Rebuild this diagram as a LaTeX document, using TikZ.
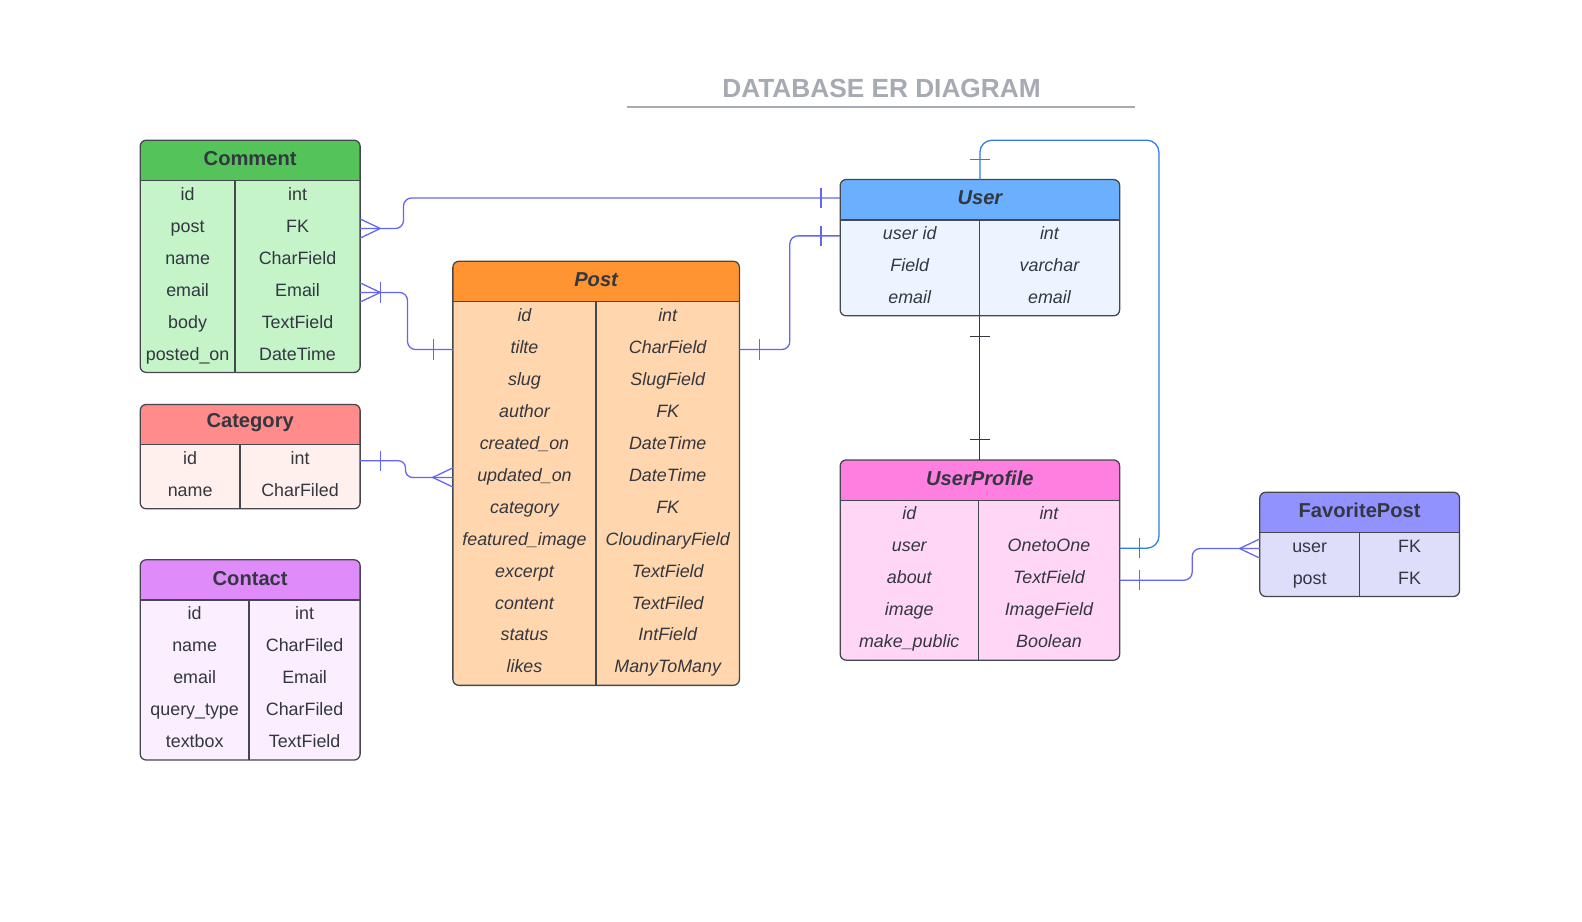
\documentclass[tikz,border=0pt]{standalone}
\usepackage{fontspec}
\setmainfont{Liberation Sans}
\usepackage{tikz}
\usetikzlibrary{positioning}

\definecolor{ink}{HTML}{333740}
\definecolor{frame}{HTML}{44474D}
\definecolor{titlegray}{HTML}{A5AAB3}
\definecolor{relblue}{HTML}{6565F5}
\definecolor{ownerblue}{HTML}{2E7DE6}
\definecolor{cmhead}{HTML}{53C35A}
\definecolor{cmbody}{HTML}{C4F4C8}
\definecolor{cthead}{HTML}{FF8B8B}
\definecolor{ctbody}{HTML}{FFF0EE}
\definecolor{cohead}{HTML}{DF8CFA}
\definecolor{cobody}{HTML}{FAEEFF}
\definecolor{pshead}{HTML}{FF9430}
\definecolor{psbody}{HTML}{FFD6AD}
\definecolor{ushead}{HTML}{6AB0FF}
\definecolor{usbody}{HTML}{ECF5FF}
\definecolor{uphead}{HTML}{FF7FE0}
\definecolor{upbody}{HTML}{FFD6F5}
\definecolor{fphead}{HTML}{9292FF}
\definecolor{fpbody}{HTML}{DEDEFB}

\begin{document}
\begin{tikzpicture}[x=0.025cm, y=-0.025cm,
    tbl/.style={draw=frame, line width=0.9pt, rounded corners=0.15cm, anchor=north west, inner sep=0pt, outer sep=0pt},
    hdr/.style={path picture={
        \fill[#1, sharp corners] (path picture bounding box.north west) rectangle ([yshift=-1cm]path picture bounding box.north east);
        \draw[frame, line width=0.9pt, sharp corners] ([yshift=-1cm]path picture bounding box.north west) -- ([yshift=-1cm]path picture bounding box.north east);}},
    htext/.style={font=\fontsize{14.2}{17}\selectfont\bfseries, text=ink, minimum height=1cm, inner sep=0pt, yshift=0.05cm},
    ihtext/.style={htext, font=\fontsize{14.2}{17}\selectfont\bfseries\itshape},
    fld/.style={font=\fontsize{12.6}{15}\selectfont, text=ink, inner sep=0pt, text height=0.33cm, text depth=0.1475cm},
    ifld/.style={fld, font=\fontsize{12.6}{15}\selectfont\itshape},
    rule/.style={draw=frame, line width=0.9pt},
    relline/.style={draw=relblue, line width=0.9pt, rounded corners=0.2cm},
    ownerline/.style={draw=ownerblue, line width=0.9pt, rounded corners=0.3cm},
    oneline/.style={draw=ink, line width=0.7pt}
]
    \fill[white] (0,0) rectangle (1568.5,914.1);
    \useasboundingbox (0,0) rectangle (1568.5,914.1);

    % title
    \node[font=\fontsize{18.5}{22}\selectfont\bfseries, text=titlegray] (title) at (874,88) {DATABASE ER DIAGRAM};
    \draw[titlegray, line width=1.1pt] (622,106) -- (1125,106);

    % Comment
    \node[tbl, fill=cmbody, hdr=cmhead, minimum width=5.45cm, minimum height=5.755cm] (comment) at (139,139) {};
    \node[htext, below=0cm of comment.north] (commenttitle) {Comment};
    \draw[rule] (233,179) -- (233,369.2);
    \foreach \f/\t [count=\i from 0] in {id/int, post/FK, name/CharField, email/Email, body/TextField, posted\_on/DateTime} {
        \node[fld] (cmf\i) at (186, 194.85+31.7*\i) {\f};
        \node[fld] (cmt\i) at (295, 194.85+31.7*\i) {\t};
    }

    % Category
    \node[tbl, fill=ctbody, hdr=cthead, minimum width=5.45cm, minimum height=2.585cm] (category) at (139,401) {};
    \node[htext, below=0cm of category.north] (categorytitle) {Category};
    \draw[rule] (238,441) -- (238,504.4);
    \foreach \f/\t [count=\i from 0] in {id/int, name/CharFiled} {
        \node[fld] (ctf\i) at (188.5, 456.85+31.7*\i) {\f};
        \node[fld] (ctt\i) at (297.5, 456.85+31.7*\i) {\t};
    }

    % Contact
    \node[tbl, fill=cobody, hdr=cohead, minimum width=5.45cm, minimum height=4.9625cm] (contact) at (139,555) {};
    \node[htext, below=0cm of contact.north] (contacttitle) {Contact};
    \draw[rule] (247,595) -- (247,753.5);
    \foreach \f/\t [count=\i from 0] in {id/int, name/CharFiled, email/Email, query\_type/CharFiled, textbox/TextField} {
        \node[fld] (cof\i) at (193, 610.85+31.7*\i) {\f};
        \node[fld] (cot\i) at (302, 610.85+31.7*\i) {\t};
    }

    % Post
    \node[tbl, fill=psbody, hdr=pshead, minimum width=7.1cm, minimum height=10.51cm] (post) at (449,259) {};
    \node[ihtext, below=0cm of post.north] (posttitle) {Post};
    \draw[rule] (591,299) -- (591,679.4);
    \foreach \f/\t [count=\i from 0] in {id/int, tilte/CharField, slug/SlugField, author/FK, created\_on/DateTime,
        updated\_on/DateTime, category/FK, featured\_image/CloudinaryField, excerpt/TextField, content/TextFiled,
        status/IntField, likes/ManyToMany} {
        \node[ifld] (psf\i) at (520, 314.85+31.7*\i) {\f};
        \node[ifld] (pst\i) at (662, 314.85+31.7*\i) {\t};
    }

    % User
    \node[tbl, fill=usbody, hdr=ushead, minimum width=6.925cm, minimum height=3.3775cm] (user) at (833,178) {};
    \node[ihtext, below=0cm of user.north] (usertitle) {User};
    \draw[rule] (971,218) -- (971,313.1);
    \foreach \f/\t [count=\i from 0] in {user id/int, Field/varchar, email/email} {
        \node[ifld] (usf\i) at (902, 233.85+31.7*\i) {\f};
        \node[ifld] (ust\i) at (1040.5, 233.85+31.7*\i) {\t};
    }

    % UserProfile
    \node[tbl, fill=upbody, hdr=uphead, minimum width=6.925cm, minimum height=4.9625cm] (userprofile) at (833,456) {};
    \node[ihtext, below=0cm of userprofile.north] (userprofiletitle) {UserProfile};
    \draw[rule] (970,496) -- (970,654.5);
    \foreach \f/\t [count=\i from 0] in {id/int, user/OnetoOne, about/TextField, image/ImageField, make\_public/Boolean} {
        \node[ifld] (upf\i) at (901.5, 511.85+31.7*\i) {\f};
        \node[ifld] (upt\i) at (1040, 511.85+31.7*\i) {\t};
    }

    % FavoritePost
    \node[tbl, fill=fpbody, hdr=fphead, minimum width=4.95cm, minimum height=2.585cm] (favoritepost) at (1249,488) {};
    \node[htext, below=0cm of favoritepost.north] (favoriteposttitle) {FavoritePost};
    \draw[rule] (1348,528) -- (1348,591.4);
    \foreach \f/\t [count=\i from 0] in {user/FK, post/FK} {
        \node[fld] (fpf\i) at (1298.5, 543.85+31.7*\i) {\f};
        \node[fld] (fpt\i) at (1397.5, 543.85+31.7*\i) {\t};
    }

    % relations
    \draw[relline] (comment.east |- cmf1) -- ++(43,0) |- (user.west |- usertitle);
    \draw[relline, sharp corners] (comment.east |- cmf1) ++(0,-9.5) -- ++(20,9.5) -- ++(-20,9.5);
    \draw[relline, sharp corners] (user.west |- usertitle) ++(-19,-10) -- ++(0,20);

    \draw[relline] (comment.east |- cmf3) -- ++(47,0) |- (post.west |- psf1);
    \draw[relline, sharp corners] (comment.east |- cmf3) ++(0,-9.5) -- ++(20,9.5) -- ++(-20,9.5);
    \draw[relline, sharp corners] (comment.east |- cmf3) ++(20,-10) -- ++(0,20);
    \draw[relline, sharp corners] (post.west |- psf1) ++(-19,-10) -- ++(0,20);

    \draw[relline, rounded corners=0.175cm] (category.east |- ctf0) -- ++(45,0) |- (post.west |- psf5);
    \draw[relline, sharp corners] (category.east |- ctf0) ++(20,-10) -- ++(0,20);
    \draw[relline, sharp corners] (post.west |- psf5) ++(0,-9.5) -- ++(-20,9.5) -- ++(20,9.5);

    \draw[relline] (post.east |- psf1) -- ++(50,0) |- (user.west |- usf0);
    \draw[relline, sharp corners] (post.east |- psf1) ++(20,-10) -- ++(0,20);
    \draw[relline, sharp corners] (user.west |- usf0) ++(-19,-10) -- ++(0,20);

    \draw[oneline] (user.south) -- (userprofile.north);
    \draw[oneline] (user.south) ++(-10,20) -- ++(20,0);
    \draw[oneline] (userprofile.north) ++(-10,-20) -- ++(20,0);

    \draw[ownerline] (user.north) -- ++(0,-39) -- ++(177.5,0) |- (userprofile.east |- upf1);
    \draw[ownerline, sharp corners] (user.north) ++(-10,-20) -- ++(20,0);
    \draw[ownerline, sharp corners] (userprofile.east |- upf1) ++(20,-10) -- ++(0,20);

    \draw[relline] (favoritepost.west |- fpf0) -- ++(-67,0) |- (userprofile.east |- upf2);
    \draw[relline, sharp corners] (favoritepost.west |- fpf0) ++(0,-9.5) -- ++(-20,9.5) -- ++(20,9.5);
    \draw[relline, sharp corners] (userprofile.east |- upf2) ++(20,-10) -- ++(0,20);
\end{tikzpicture}
\end{document}
